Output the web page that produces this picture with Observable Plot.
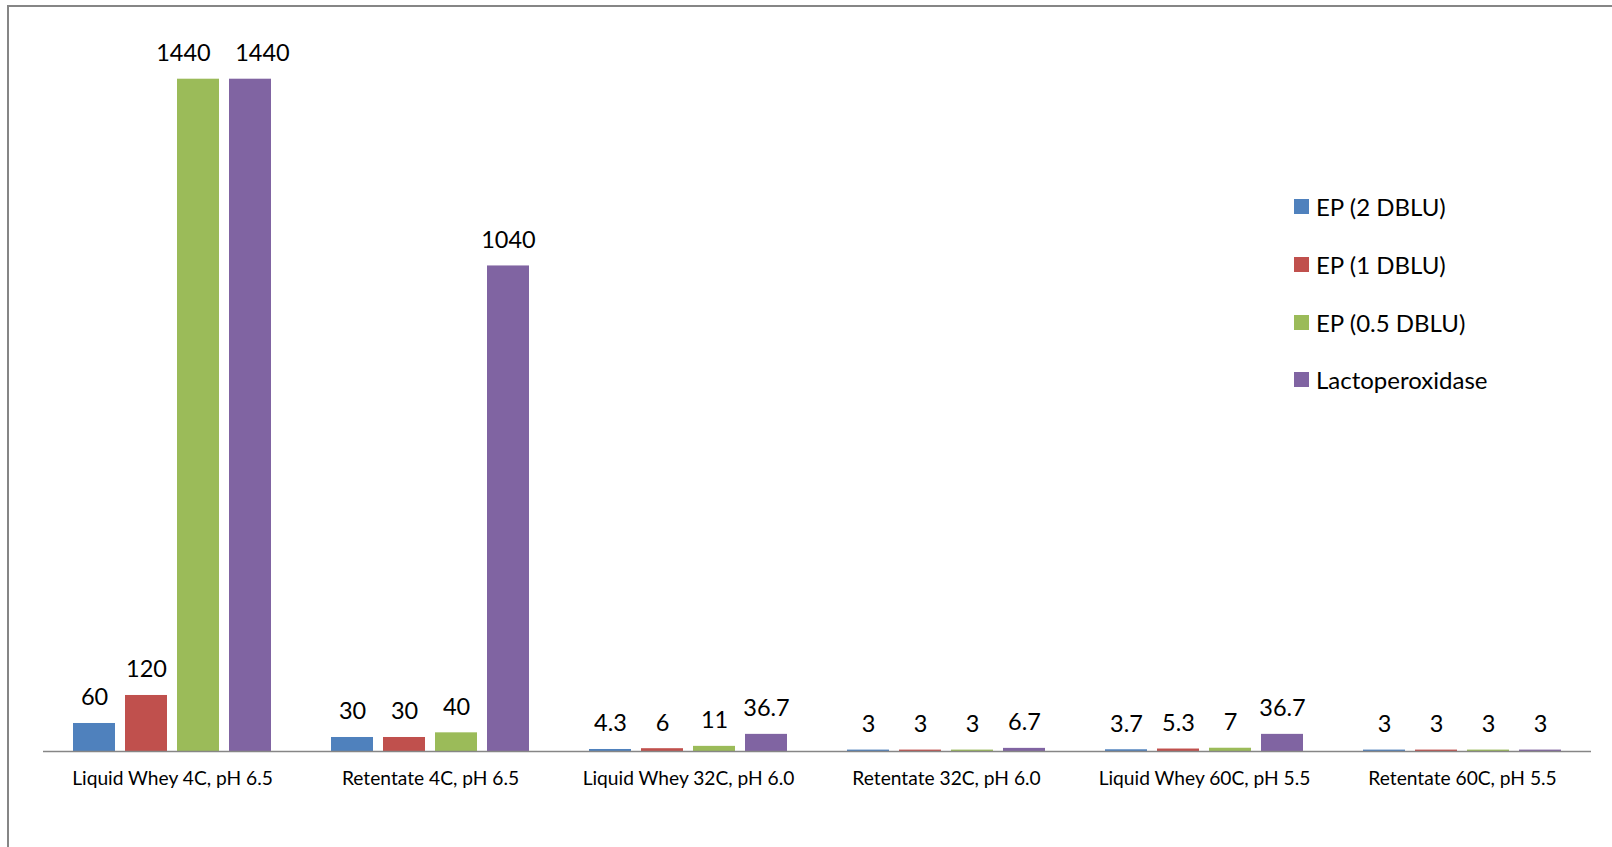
<!DOCTYPE html>
<html>
<head>
<meta charset="utf-8">
<script src="https://cdn.jsdelivr.net/npm/d3@7"></script>
<script src="https://cdn.jsdelivr.net/npm/@observablehq/plot@0.6"></script>
<style>
  html, body { margin: 0; padding: 0; background: #fff; overflow: hidden; }
  #wrap { position: relative; width: 1612px; height: 847px; font-family: Lato, "Open Sans", sans-serif; }
  #wrap svg { position: absolute; left: 0; top: 0; }
  .frame-top { position: absolute; left: 8px; top: 5px; width: 1604px; height: 2px; background: #868686; }
  .frame-left { position: absolute; left: 7px; top: 5px; width: 2px; height: 842px; background: #868686; }
  #legend { position: absolute; left: 1294px; top: 0; }
  .li { position: absolute; left: 0; white-space: nowrap; font-size: 24px; color: #000; display: flex; align-items: center; height: 30px; }
  .sw { width: 15px; height: 15px; margin-right: 7px; display: inline-block; }
</style>
</head>
<body>
<div id="wrap">
  <div class="frame-top"></div>
  <div class="frame-left"></div>
  <div id="legend"></div>
</div>
<script>
const categories = ["Liquid Whey 4C, pH 6.5", "Retentate 4C, pH 6.5", "Liquid Whey 32C, pH 6.0", "Retentate 32C, pH 6.0", "Liquid Whey 60C, pH 5.5", "Retentate 60C, pH 5.5"];
const series = ["EP (2 DBLU)", "EP (1 DBLU)", "EP (0.5 DBLU)", "Lactoperoxidase"];
const colors = ["#4F81BD", "#C0504D", "#9BBB59", "#8064A2"];
const ep2 = [60, 30, 4.3, 3, 3.7, 3];
const ep1 = [120, 30, 6, 3, 5.3, 3];
const ep05 = [1440, 40, 11, 3, 7, 3];
const lacto = [1440, 1040, 36.7, 6.7, 36.7, 3];

const seriesValues = [ep2, ep1, ep05, lacto];
const data = [];
categories.forEach((c, i) => {
  series.forEach((s, j) => {
    data.push({cat: c, series: s, value: seriesValues[j][i], idx: j, shift: 0});
  });
});

// Excel nudges apart data labels that would collide (wide labels at the same height side by side)
data.forEach((d, k) => {
  const next = data[k + 1];
  if (next && next.cat === d.cat && next.value === d.value && d.value >= 1000) {
    d.shift = -1; next.shift = 1;
  }
});

const fontFam = "Lato, 'Open Sans', sans-serif";
const textOpts = {fx: "cat", x: "series", y: "value", text: d => String(d.value), lineAnchor: "bottom", dy: -18, fontSize: 23.5, fill: "#000"};

const chart = Plot.plot({
  width: 1612,
  height: 847,
  marginLeft: 40,
  marginRight: 19,
  marginTop: 4,
  marginBottom: 96,
  style: {fontFamily: fontFam, background: "transparent", overflow: "visible"},
  fx: {domain: categories, padding: 0, label: null, axis: null},
  x: {domain: series, paddingInner: 0.2, paddingOuter: 0.58, axis: null},
  y: {domain: [0, 1600], axis: null},
  color: {domain: series, range: colors},
  marks: [
    Plot.barY(data, {fx: "cat", x: "series", y: "value", fill: "series"}),
    Plot.ruleY([0], {stroke: "#868686", strokeWidth: 1.5}),
    Plot.text(data.filter(d => d.shift === 0), textOpts),
    Plot.text(data.filter(d => d.shift < 0), {...textOpts, dx: -15}),
    Plot.text(data.filter(d => d.shift > 0), {...textOpts, dx: 12}),
    Plot.axisFx({anchor: "bottom", tickSize: 0, tickPadding: 20, fontSize: 19.2, label: null, color: "#000"})
  ]
});
document.getElementById("wrap").appendChild(chart);

const legend = document.getElementById("legend");
const legendY = [206, 264, 322, 379];
series.forEach((s, i) => {
  const row = document.createElement("div");
  row.className = "li";
  row.style.top = (legendY[i] - 15) + "px";
  const sw = document.createElement("span");
  sw.className = "sw";
  sw.style.background = colors[i];
  const tx = document.createElement("span");
  tx.textContent = s;
  row.appendChild(sw);
  row.appendChild(tx);
  legend.appendChild(row);
});
</script>
</body>
</html>
